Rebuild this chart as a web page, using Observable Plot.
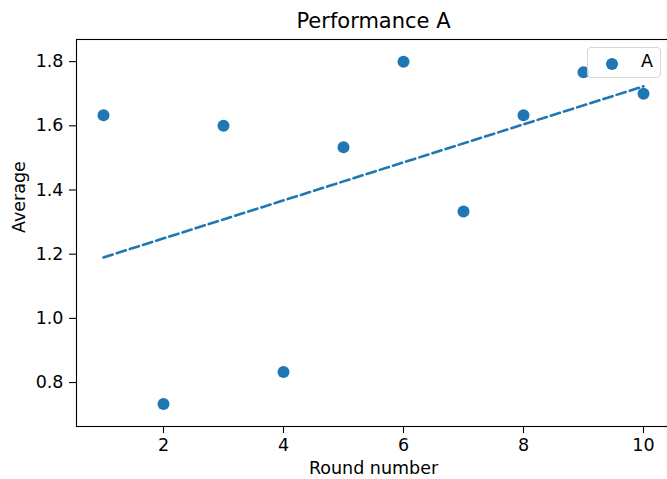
<!DOCTYPE html>
<html>
<head>
<meta charset="utf-8">
<script src="https://cdn.jsdelivr.net/npm/d3@7"></script>
<script src="https://cdn.jsdelivr.net/npm/@observablehq/plot@0.6"></script>
<style>
  html, body { margin: 0; padding: 0; background: #fff; overflow: hidden; }
  #wrap { position: relative; width: 667px; height: 479px; overflow: hidden; font-family: "DejaVu Sans", sans-serif; }
  #wrap svg { max-width: none !important; display: block; }
  #legend { position: absolute; left: 587px; top: 47px; width: 74px; height: 31px; box-sizing: border-box;
    border: 1px solid #d5d5d5; border-radius: 4px; background: rgba(255,255,255,0.8); }
  #legend .dot { position: absolute; left: 17.5px; top: 9.5px; width: 12px; height: 12px; border-radius: 50%; background: #1f77b4; }
  #legend .lab { position: absolute; left: 53px; top: 3px; font-size: 17.5px; color: #000; }
</style>
</head>
<body>
<div id="wrap"></div>
<script>
const title = "Performance A";
const xLabel = "Round number";
const yLabel = "Average";
const seriesName = "A";
const rounds = [1, 2, 3, 4, 5, 6, 7, 8, 9, 10];
const averages = [1.633, 0.733, 1.6, 0.833, 1.533, 1.8, 1.333, 1.633, 1.767, 1.7];
const xTicks = [2, 4, 6, 8, 10];
const yTicks = [0.8, 1.0, 1.2, 1.4, 1.6, 1.8];

const data = rounds.map((r, i) => ({round: r, avg: averages[i]}));
const color = "#1f77b4";
const fs = 17.5;

const chart = Plot.plot({
  width: 671,
  height: 479,
  marginLeft: 76,
  marginRight: 1,
  marginTop: 39,
  marginBottom: 53,
  style: {fontFamily: "DejaVu Sans, sans-serif", fontSize: fs + "px", color: "#000", background: "#fff", maxWidth: "none"},
  x: {domain: [0.55, 10.45]},
  y: {domain: [0.663, 1.869]},
  marks: [
    Plot.frame({stroke: "#000", strokeWidth: 1.1}),
    Plot.axisX({ticks: xTicks, tickSize: 7, tickPadding: 5, label: null, fontSize: fs, strokeWidth: 1.1}),
    Plot.axisY({ticks: yTicks, tickSize: 7, tickPadding: 6, label: null, fontSize: fs, tickFormat: d3.format(".1f"), strokeWidth: 1.1}),
    Plot.linearRegressionY(data, {x: "round", y: "avg", ci: 0, stroke: color, strokeWidth: 2.6, strokeDasharray: "9.6,4.2"}),
    Plot.dot(data, {x: "round", y: "avg", r: 6, fill: color, stroke: "none"}),
    Plot.text([title], {frameAnchor: "top", dy: -11.5, lineAnchor: "bottom", fontSize: 21, fill: "#000"}),
    Plot.text([xLabel], {frameAnchor: "bottom", dy: 47, fontSize: fs, fill: "#000"}),
    Plot.text([yLabel], {frameAnchor: "left", dx: -57, rotate: -90, fontSize: fs, fill: "#000"})
  ]
});
const wrap = document.getElementById("wrap");
wrap.appendChild(chart);
const legend = document.createElement("div");
legend.id = "legend";
legend.innerHTML = '<div class="dot"></div><div class="lab"></div>';
legend.querySelector(".lab").textContent = seriesName;
wrap.appendChild(legend);
</script>
</body>
</html>
